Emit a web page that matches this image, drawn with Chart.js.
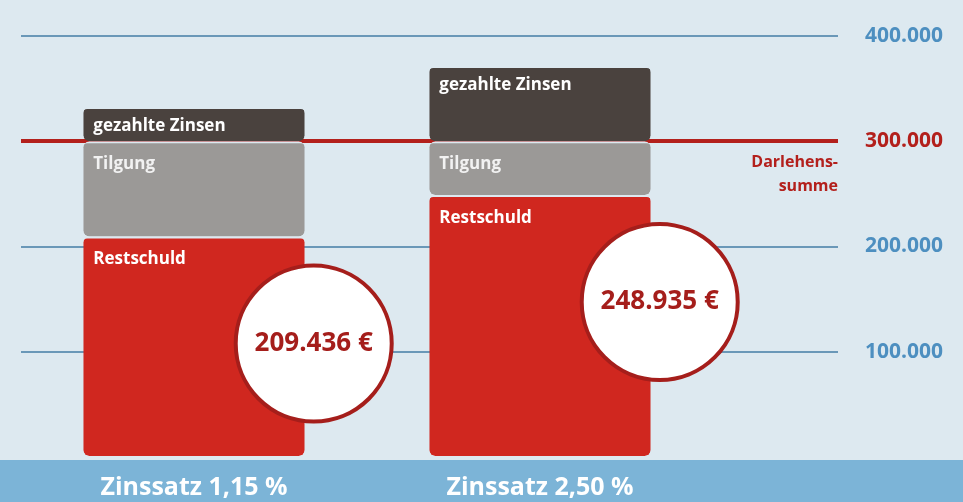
<!DOCTYPE html>
<html lang="de">
<head>
<meta charset="utf-8">
<script src="https://cdn.jsdelivr.net/npm/chart.js@4.4.1/dist/chart.umd.min.js"></script>
<style>
  html, body { margin: 0; padding: 0; background: #dde9f0; }
  #box { width: 963px; height: 502px; position: relative; }
</style>
</head>
<body>
<div id="box"><canvas id="grafik"></canvas></div>
<script>
// Werte aus der Grafik
const kategorien = ['Zinssatz 1,15 %', 'Zinssatz 2,50 %'];
const restschuld = [209436, 248935];
const tilgung = [90564, 51065];
const gezahlteZinsen = [32500, 71500];
const darlehenssumme = 300000;
const achsenWerte = [100000, 200000, 300000, 400000];
const achsenTexte = ['100.000', '200.000', '300.000', '400.000'];
const kreisTexte = ['209.436 €', '248.935 €'];

const rot = '#b3201c';
const blau = '#4d8fc0';
const ecken = { topLeft: 6, topRight: 6, bottomLeft: 6, bottomRight: 6 };

const beschriftung = {
    id: 'beschriftung',
    beforeDraw(chart) {
        const ctx = chart.ctx;
        const area = chart.chartArea;
        ctx.save();
        ctx.fillStyle = '#7cb4d7';
        ctx.fillRect(0, area.bottom + 3, chart.width, chart.height - area.bottom - 3);
        ctx.restore();
    },
    afterDatasetsDraw(chart) {
        const ctx = chart.ctx;
        const area = chart.chartArea;
        const y = chart.scales.y;
        ctx.save();

        // Beschriftung der Segmente
        ctx.font = 'bold 17px "Open Sans", sans-serif';
        ctx.textBaseline = 'middle';
        ctx.textAlign = 'left';
        chart.data.datasets.forEach((ds, i) => {
            chart.getDatasetMeta(i).data.forEach(el => {
                const links = el.x - el.width / 2;
                const oben = Math.min(el.y, el.base);
                ctx.fillStyle = i == 1 ? '#f2f2f2' : '#ffffff';
                ctx.fillText(ds.label, links + 10, oben + (i == 2 ? 19 : 23));
            });
        });

        // Kreise mit Restschuld
        chart.getDatasetMeta(0).data.forEach((el, i) => {
            const cx = el.x + el.width / 2 + 9;
            const cy = el.y + 107;
            ctx.beginPath();
            ctx.arc(cx, cy, 78, 0, Math.PI * 2);
            ctx.fillStyle = '#ffffff';
            ctx.fill();
            ctx.lineWidth = 4;
            ctx.strokeStyle = '#a51e1b';
            ctx.stroke();
            ctx.fillStyle = '#a51e1b';
            ctx.textAlign = 'center';
            ctx.font = 'bold 26px "Open Sans", sans-serif';
            ctx.fillText(kreisTexte[i], cx, cy);
        });

        // Darlehenssumme
        const yd = y.getPixelForValue(darlehenssumme);
        ctx.fillStyle = rot;
        ctx.textAlign = 'right';
        ctx.font = 'bold 16px "Open Sans", sans-serif';
        ctx.fillText('Darlehens-', area.right + 125, yd + 21);
        ctx.fillText('summe', area.right + 125, yd + 45);
        ctx.restore();
    }
};

window.onload = function () {

    const grafik = document.getElementById('grafik');

    new Chart(grafik, {
        type: 'bar',
        data: {
            labels: kategorien,
            datasets: [
                { label: 'Restschuld', data: restschuld, backgroundColor: '#d0271f' },
                { label: 'Tilgung', data: tilgung, backgroundColor: '#9b9997' },
                { label: 'gezahlte Zinsen', data: gezahlteZinsen, backgroundColor: '#4a423e' }
            ].map(ds => Object.assign(ds, {
                borderRadius: ecken,
                borderSkipped: false,
                borderWidth: { top: 2, bottom: 0, left: 0, right: 0 },
                borderColor: '#dde9f0',
                categoryPercentage: 1,
                barPercentage: 0.64
            }))
        },
        options: {
            responsive: true,
            maintainAspectRatio: false,
            animation: false,
            layout: { padding: { left: 21, right: 18, top: 36, bottom: 4 } },
            plugins: { legend: { display: false }, tooltip: { enabled: false } },
            scales: {
                x: {
                    stacked: true,
                    grid: { display: false, drawTicks: false },
                    border: { display: false },
                    afterFit: (s) => { s.height = 41; },
                    ticks: {
                        color: '#ffffff',
                        padding: 16,
                        font: { family: '"Open Sans", sans-serif', size: 25, weight: 'bold' }
                    }
                },
                y: {
                    stacked: true,
                    position: 'right',
                    min: 0,
                    max: 400000,
                    border: { display: false },
                    afterFit: (s) => { s.width = 232; s.paddingTop = 0; s.paddingBottom = 0; },
                    grid: {
                        tickLength: 125,
                        color: (c) => c.tick.value == 0 ? 'rgba(0,0,0,0)' : (c.tick.value == darlehenssumme ? rot : '#6a98b8'),
                        lineWidth: (c) => c.tick.value == darlehenssumme ? 4 : 2
                    },
                    ticks: {
                        stepSize: 100000,
                        padding: 27,
                        color: (c) => c.tick.value == darlehenssumme ? rot : blau,
                        font: { family: '"Open Sans", sans-serif', size: 21, weight: 'bold' },
                        callback: (v) => {
                            const i = achsenWerte.indexOf(v);
                            return i < 0 ? '' : achsenTexte[i];
                        }
                    }
                }
            }
        },
        plugins: [beschriftung]
    });
}
</script>
</body>
</html>
